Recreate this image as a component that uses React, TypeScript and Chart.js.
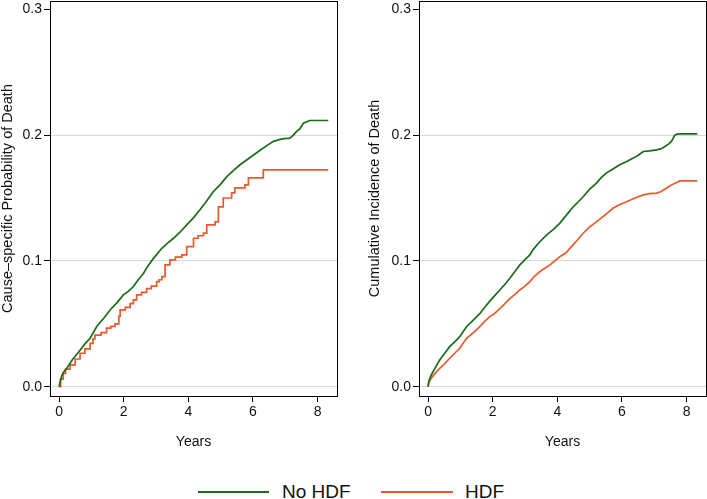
import React, { useEffect, useRef } from "react";
import { Chart, registerables } from "chart.js";

Chart.register(...registerables);

// ---------- data ----------
const yTicks = [0, 0.1, 0.2, 0.3];
const xTicks = [0, 2, 4, 6, 8];
const seriesLabels = ["No HDF", "HDF"];
const leftTitle = "Cause–specific Probability of Death";
const rightTitle = "Cumulative Incidence of Death";
const xTitle = "Years";

// Left panel: cause-specific probability, No HDF
const csNoHdfT = [0, 0.05, 0.12, 0.24, 0.4, 0.65, 0.8, 0.96, 1.17, 1.4, 1.58, 1.8, 1.99, 2.15, 2.3, 2.45, 2.61, 2.75, 2.92, 3.05, 3.18, 3.35, 3.54, 3.75, 3.95, 4.15, 4.36, 4.55, 4.77, 5.0, 5.19, 5.4, 5.6, 5.9, 6.22, 6.45, 6.63, 6.9, 7.14, 7.25, 7.35, 7.45, 7.56, 7.76, 8.33];
const csNoHdfV = [0, 0.006, 0.011, 0.0146, 0.021, 0.029, 0.034, 0.0385, 0.048, 0.055, 0.061, 0.067, 0.073, 0.076, 0.0796, 0.085, 0.09, 0.096, 0.102, 0.106, 0.11, 0.114, 0.118, 0.123, 0.1286, 0.134, 0.1406, 0.147, 0.155, 0.161, 0.167, 0.172, 0.1764, 0.182, 0.188, 0.192, 0.195, 0.197, 0.1976, 0.2, 0.203, 0.205, 0.2095, 0.2116, 0.2116];

// Left panel: cause-specific probability, HDF (step function)
const csHdfT = [0, 0.05, 0.13, 0.2, 0.34, 0.5, 0.65, 0.8, 0.96, 1.05, 1.11, 1.3, 1.47, 1.6, 1.73, 1.85, 1.89, 2.05, 2.2, 2.3, 2.4, 2.55, 2.71, 2.85, 3.02, 3.1, 3.18, 3.28, 3.43, 3.6, 3.8, 3.95, 4.16, 4.3, 4.47, 4.57, 4.83, 4.93, 5.08, 5.34, 5.44, 5.75, 5.86, 6.32, 8.33];
const csHdfV = [0, 0.006, 0.0106, 0.014, 0.0173, 0.022, 0.0266, 0.03, 0.0345, 0.038, 0.041, 0.043, 0.0465, 0.048, 0.05, 0.056, 0.061, 0.063, 0.066, 0.069, 0.073, 0.075, 0.078, 0.08, 0.0835, 0.085, 0.0875, 0.0968, 0.1008, 0.103, 0.1048, 0.1114, 0.118, 0.12, 0.122, 0.1286, 0.131, 0.143, 0.15, 0.154, 0.158, 0.1605, 0.166, 0.1724, 0.1724];

// Right panel: cumulative incidence, No HDF
const ciNoHdfT = [0, 0.03, 0.1, 0.2, 0.36, 0.5, 0.67, 0.8, 0.98, 1.19, 1.4, 1.6, 1.75, 1.91, 2.05, 2.22, 2.4, 2.53, 2.7, 2.84, 3.0, 3.15, 3.25, 3.45, 3.67, 3.88, 4.08, 4.3, 4.49, 4.65, 4.8, 5.0, 5.21, 5.35, 5.52, 5.72, 5.93, 6.15, 6.35, 6.5, 6.66, 6.85, 7.07, 7.2, 7.33, 7.45, 7.53, 7.64, 7.74, 8.33];
const ciNoHdfV = [0, 0.005, 0.0093, 0.014, 0.0212, 0.026, 0.0318, 0.035, 0.0398, 0.0477, 0.053, 0.058, 0.063, 0.068, 0.072, 0.0769, 0.082, 0.0862, 0.092, 0.0968, 0.101, 0.1048, 0.109, 0.115, 0.1207, 0.125, 0.13, 0.137, 0.143, 0.147, 0.151, 0.157, 0.1618, 0.166, 0.17, 0.173, 0.1764, 0.179, 0.1817, 0.184, 0.187, 0.1875, 0.1883, 0.189, 0.191, 0.193, 0.195, 0.2002, 0.201, 0.201];

// Right panel: cumulative incidence, HDF
const ciHdfT = [0, 0.03, 0.1, 0.2, 0.36, 0.5, 0.67, 0.8, 0.98, 1.19, 1.4, 1.6, 1.75, 1.91, 2.05, 2.22, 2.38, 2.53, 2.7, 2.84, 3.0, 3.15, 3.3, 3.46, 3.6, 3.77, 3.92, 4.08, 4.25, 4.39, 4.6, 4.8, 5.0, 5.21, 5.45, 5.73, 5.95, 6.14, 6.4, 6.66, 6.85, 7.07, 7.2, 7.38, 7.5, 7.64, 7.79, 8.33];
const ciHdfV = [0, 0.004, 0.0067, 0.01, 0.0146, 0.018, 0.0226, 0.026, 0.0305, 0.0385, 0.043, 0.0477, 0.052, 0.0557, 0.058, 0.062, 0.066, 0.07, 0.0735, 0.0769, 0.08, 0.0835, 0.088, 0.0915, 0.094, 0.0968, 0.1, 0.1034, 0.106, 0.11, 0.116, 0.122, 0.127, 0.131, 0.136, 0.142, 0.145, 0.147, 0.15, 0.1525, 0.1535, 0.1539, 0.155, 0.158, 0.16, 0.1618, 0.1636, 0.1636];

// ---------- style ----------
const FONT = '"Liberation Sans", Arial, Helvetica, sans-serif';
const GREEN = "#1b6b1b";
const ORANGE = "#e95a2a";
const TEXT = "#111111";
const GRID = "#d8d8d8";

const toPts = (t: number[], v: number[]) => t.map((x, i) => ({ x, y: v[i] }));

const boxPlugin = {
  id: "box",
  afterDraw(chart: any) {
    const { ctx, chartArea: a } = chart;
    ctx.save();
    ctx.strokeStyle = "#000";
    ctx.lineWidth = 1;
    ctx.strokeRect(a.left + 0.5, a.top + 0.5, a.right - a.left, a.bottom - a.top);
    ctx.restore();
  },
};

type PanelProps = {
  left: number;
  width: number;
  yAxisW: number;
  padRight: number;
  titlePad: number;
  yTitle: string;
  green: { x: number; y: number }[];
  orange: { x: number; y: number }[];
  orangeStepped: boolean;
};

const H = 460;
const X_AXIS_H = 64;

function Panel(p: PanelProps) {
  const ref = useRef<HTMLCanvasElement | null>(null);
  useEffect(() => {
    if (!ref.current) return;
    const font = { family: FONT, size: 14 };
    const chart = new Chart(ref.current, {
      type: "line",
      data: {
        datasets: [
          {
            label: seriesLabels[0],
            data: p.green,
            borderColor: GREEN,
            borderWidth: 1.7,
            pointRadius: 0,
            tension: 0,
          },
          {
            label: seriesLabels[1],
            data: p.orange,
            borderColor: ORANGE,
            borderWidth: 1.7,
            pointRadius: 0,
            tension: 0,
            stepped: p.orangeStepped ? "before" : false,
          },
        ],
      },
      options: {
        animation: false,
        responsive: false,
        layout: { padding: { left: 0, top: 1, right: p.padRight, bottom: 0 } },
        plugins: { legend: { display: false }, tooltip: { enabled: false } },
        scales: {
          x: {
            type: "linear",
            min: -0.28,
            max: 8.6,
            afterBuildTicks: (s: any) => {
              s.ticks = xTicks.map((v) => ({ value: v }));
            },
            afterFit: (s: any) => {
              s.height = X_AXIS_H;
              s.paddingLeft = 0;
              s.paddingRight = 0;
              s.paddingTop = 0;
              s.paddingBottom = 0;
            },
            grid: { drawOnChartArea: false, drawTicks: true, tickLength: 6, tickColor: "#000" },
            border: { display: false },
            ticks: {
              color: TEXT,
              font,
              padding: 2,
              maxRotation: 0,
              autoSkip: false,
              callback: (v: any) => String(v),
            },
            title: {
              display: true,
              text: xTitle,
              color: TEXT,
              font,
              padding: { top: 0, bottom: 9 },
            },
          },
          y: {
            type: "linear",
            min: -0.0074,
            max: 0.3066,
            afterBuildTicks: (s: any) => {
              s.ticks = yTicks.map((v) => ({ value: v }));
            },
            afterFit: (s: any) => {
              s.width = p.yAxisW;
              s.paddingLeft = 0;
              s.paddingRight = 0;
              s.paddingTop = 0;
              s.paddingBottom = 0;
            },
            grid: {
              drawOnChartArea: true,
              drawTicks: true,
              tickLength: 6,
              tickColor: "#000",
              color: (c: any) => (c.tick && c.tick.value > 0.25 ? "rgba(0,0,0,0)" : GRID),
            },
            border: { display: false },
            ticks: {
              color: TEXT,
              font,
              padding: 2,
              autoSkip: false,
              callback: (v: any) => Number(v).toFixed(1),
            },
            title: {
              display: true,
              text: p.yTitle,
              color: TEXT,
              font: { family: FONT, size: 14.5, lineHeight: 1.1 },
              padding: { top: p.titlePad, bottom: 0 },
            },
          },
        },
      },
      plugins: [boxPlugin],
    } as any);
    return () => chart.destroy();
  }, []);
  return (
    <canvas
      ref={ref}
      width={p.width}
      height={H}
      style={{ position: "absolute", left: p.left, top: 0, width: p.width, height: H }}
    />
  );
}

function LegendItem({ x, lineW, textX, color, label }: { x: number; lineW: number; textX: number; color: string; label: string }) {
  return (
    <>
      <div style={{ position: "absolute", left: x, top: 491, width: lineW, height: 2, background: color }} />
      <span
        style={{
          position: "absolute",
          left: textX,
          top: 491,
          transform: "translateY(-50%)",
          lineHeight: 1,
          fontFamily: FONT,
          fontSize: 19,
          color: TEXT,
          whiteSpace: "nowrap",
        }}
      >
        {label}
      </span>
    </>
  );
}

export default function App() {
  return (
    <div
      style={{
        position: "fixed",
        left: 0,
        top: 0,
        width: 707,
        height: 499,
        background: "#fff",
        overflow: "hidden",
      }}
    >
      <Panel
        left={0}
        width={345}
        yAxisW={50}
        padRight={8}
        titlePad={0}
        yTitle={leftTitle}
        green={toPts(csNoHdfT, csNoHdfV)}
        orange={toPts(csHdfT, csHdfV)}
        orangeStepped={true}
      />
      <Panel
        left={360}
        width={347}
        yAxisW={59}
        padRight={1}
        titlePad={7}
        yTitle={rightTitle}
        green={toPts(ciNoHdfT, ciNoHdfV)}
        orange={toPts(ciHdfT, ciHdfV)}
        orangeStepped={false}
      />
      <LegendItem x={198} lineW={71} textX={282} color={GREEN} label={seriesLabels[0]} />
      <LegendItem x={381} lineW={72} textX={465} color={ORANGE} label={seriesLabels[1]} />
    </div>
  );
}
